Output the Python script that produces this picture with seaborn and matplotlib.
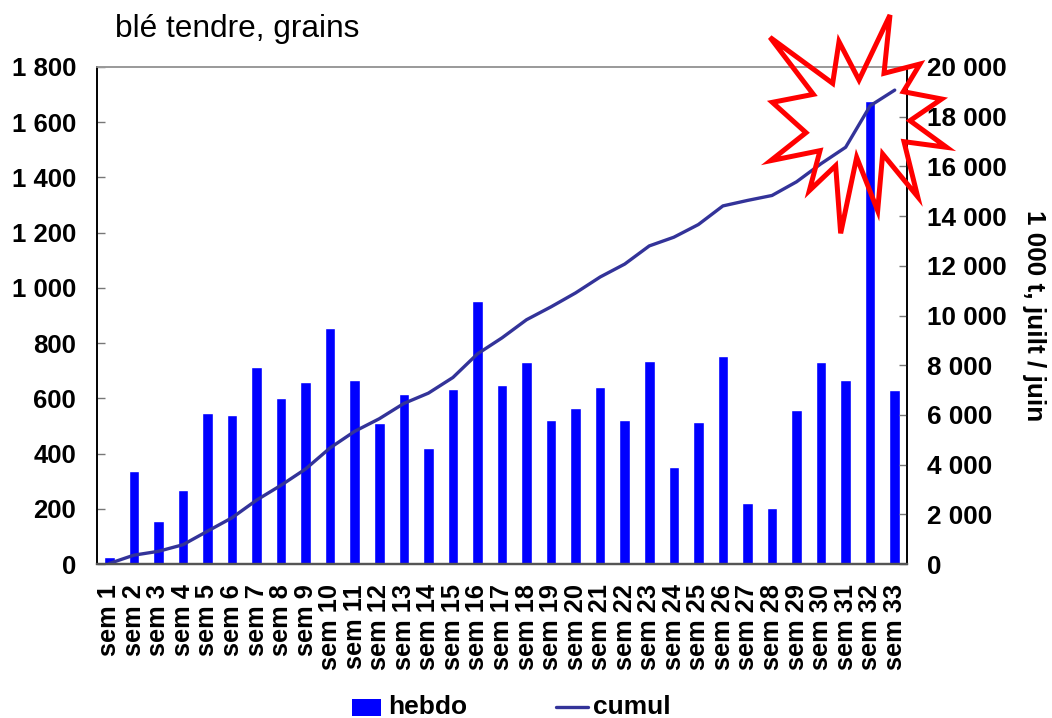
import matplotlib
matplotlib.use("Agg")
import matplotlib.pyplot as plt
import seaborn as sns
import pandas as pd
from matplotlib.patches import Polygon

weeks = [f"sem {i}" for i in range(1, 34)]
hebdo = [24, 338, 155, 268, 546, 540, 713, 603, 658, 853, 666, 510, 615, 419, 633, 951, 648, 733,
         521, 565, 640, 521, 735, 351, 516, 755, 221, 203, 556, 731, 666, 1676, 630]
cumul = [20, 355, 510, 775, 1320, 1860, 2570, 3170, 3825, 4675, 5340, 5845, 6460, 6875, 7505, 8455,
         9100, 9830, 10350, 10910, 11550, 12070, 12800, 13150, 13660, 14410, 14630, 14830, 15380, 16110, 16770, 18440, 19070]
star_zoom_x = [450, 432, 540, 490, 605, 510, 620, 492, 533, 428, 413, 350, 302, 287, 208, 240, 92, 198, 97, 220, 90, 278, 297, 357]
star_zoom_y = [45, 220, 192, 275, 297, 362, 442, 425, 590, 462, 632, 472, 700, 497, 572, 452, 482, 398, 307, 283, 112, 250, 125, 240]

sns.set_style("white")
plt.rcParams["font.family"] = ["Liberation Sans", "DejaVu Sans"]
plt.rcParams["text.color"] = "black"
plt.rcParams["axes.labelcolor"] = "black"
plt.rcParams["xtick.color"] = "black"
plt.rcParams["ytick.color"] = "#777777"
fig = plt.figure(figsize=(10.52, 7.18), dpi=100)
ax = fig.add_axes([97/1052, 1-564/718, (907-97)/1052, (564-67)/718])
df = pd.DataFrame({"sem": weeks, "hebdo": hebdo, "cumul": cumul})
sns.barplot(data=df, x="sem", y="hebdo", color="#0000FF", saturation=1, width=0.43, ax=ax, legend=False)
ax.set_xlim(-0.5, 32.5)
ax.set_ylim(0, 1800)
ax.set_yticks(range(0, 1801, 200))
ax.set_yticklabels([f"{v:,}".replace(",", " ") for v in range(0, 1801, 200)], fontsize=18.5, fontweight="bold", color="black")
ax.set_xlabel(""); ax.set_ylabel("")
ax.tick_params(axis="x", labelrotation=90, labelsize=18.3, length=0, pad=14.5, bottom=False)
for t in ax.get_xticklabels():
    t.set_fontweight("bold")
ax.tick_params(axis="y", direction="in", length=6, width=1, left=True, pad=15)
ax2 = ax.twinx()
sns.lineplot(data=df, x="sem", y="cumul", color="#333399", lw=2.4, ax=ax2, legend=False)
ax2.set_ylim(0, 20000)
ax2.set_yticks(range(0, 20001, 2000))
ax2.set_yticklabels([f"{v:,}".replace(",", " ") for v in range(0, 20001, 2000)], fontsize=18.8, fontweight="bold", color="black")
ax2.tick_params(axis="y", direction="in", length=6, width=1, right=True, pad=14.5)
ax2.set_xlabel("")
ax2.set_ylabel("1 000 t, juilt / juin", rotation=270, fontsize=18.8, fontweight="bold")
ax2.yaxis.set_label_coords(1.171, 0.5)
for a in (ax, ax2):
    for s in a.spines.values():
        s.set_visible(True); s.set_color("black"); s.set_linewidth(1.2)
    a.spines["top"].set_color("#999999")
    a.spines["bottom"].set_color("#555555")
    a.spines["bottom"].set_linewidth(1.6)
ax.set_zorder(1)
ax2.set_zorder(2)
fig.text(115/1052, 1-29/718, "blé tendre, grains", fontsize=22.8, va="center", ha="left")
# Legend
fig.patches.append(Polygon([[352/1052, 1-699/718], [381/1052, 1-699/718], [381/1052, 1-716/718], [352/1052, 1-716/718]],
                           closed=True, transform=fig.transFigure, fc="#0000FF", ec="none"))
fig.text(388/1052, 1-707/718, "hebdo", fontsize=19, fontweight="bold", va="center")
fig.add_artist(plt.Line2D([556/1052, 588/1052], [1-707/718]*2, color="#333399", lw=2.4))
fig.text(593/1052, 1-707/718, "cumul", fontsize=19, fontweight="bold", va="center")
# Burst annotation (drawn above both axes)
pts = [[(740 + x/3)/1052, 1-(y/3)/718] for x, y in zip(star_zoom_x, star_zoom_y)]
fig.add_artist(Polygon(pts, closed=True, transform=fig.transFigure, fc="none", ec="#FF0000", lw=3.6,
                       joinstyle="miter", zorder=10))
fig.savefig("out.png", dpi=100)
